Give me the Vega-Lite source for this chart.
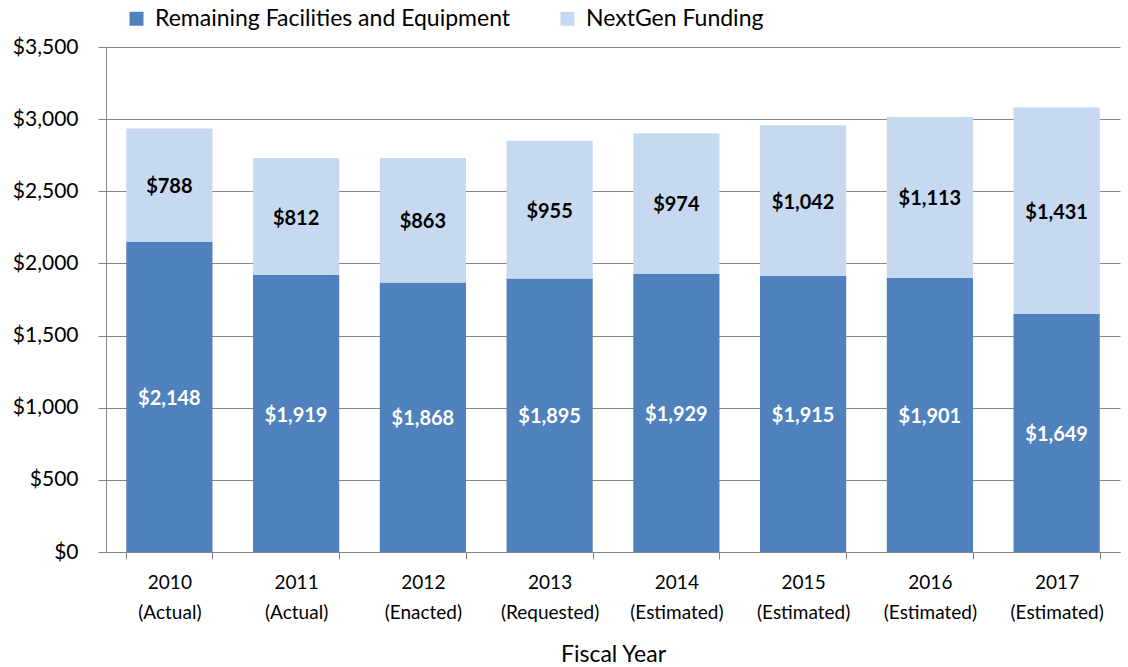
{
  "$schema": "https://vega.github.io/schema/vega-lite/v6.json",
  "width": 1014,
  "height": 505,
  "autosize": "none",
  "padding": {"left": 106, "top": 47, "right": 8, "bottom": 115},
  "background": "white",
  "config": {
    "font": "Lato",
    "view": {"stroke": null},
    "axis": {"labelFont": "Lato", "titleFont": "Lato", "labelColor": "#000000", "titleColor": "#000000"}
  },
  "data": {
    "values": [
      {"year": "2010 (Actual)", "series": "Remaining Facilities and Equipment", "order": 1, "value": 2148},
      {"year": "2010 (Actual)", "series": "NextGen Funding", "order": 2, "value": 788},
      {"year": "2011 (Actual)", "series": "Remaining Facilities and Equipment", "order": 1, "value": 1919},
      {"year": "2011 (Actual)", "series": "NextGen Funding", "order": 2, "value": 812},
      {"year": "2012 (Enacted)", "series": "Remaining Facilities and Equipment", "order": 1, "value": 1868},
      {"year": "2012 (Enacted)", "series": "NextGen Funding", "order": 2, "value": 863},
      {"year": "2013 (Requested)", "series": "Remaining Facilities and Equipment", "order": 1, "value": 1895},
      {"year": "2013 (Requested)", "series": "NextGen Funding", "order": 2, "value": 955},
      {"year": "2014 (Estimated)", "series": "Remaining Facilities and Equipment", "order": 1, "value": 1929},
      {"year": "2014 (Estimated)", "series": "NextGen Funding", "order": 2, "value": 974},
      {"year": "2015 (Estimated)", "series": "Remaining Facilities and Equipment", "order": 1, "value": 1915},
      {"year": "2015 (Estimated)", "series": "NextGen Funding", "order": 2, "value": 1042},
      {"year": "2016 (Estimated)", "series": "Remaining Facilities and Equipment", "order": 1, "value": 1901},
      {"year": "2016 (Estimated)", "series": "NextGen Funding", "order": 2, "value": 1113},
      {"year": "2017 (Estimated)", "series": "Remaining Facilities and Equipment", "order": 1, "value": 1649},
      {"year": "2017 (Estimated)", "series": "NextGen Funding", "order": 2, "value": 1431}
    ]
  },
  "transform": [
    {"stack": "value", "groupby": ["year"], "sort": [{"field": "order", "order": "ascending"}], "as": ["v0", "v1"]},
    {"calculate": "(datum.v0 + datum.v1) / 2", "as": "mid"}
  ],
  "encoding": {
    "x": {
      "field": "year",
      "type": "nominal",
      "sort": null,
      "scale": {"paddingInner": 0.32, "paddingOuter": 0.16},
      "axis": {
        "title": "Fiscal Year",
        "titleFontSize": 23,
        "titleFontWeight": "normal",
        "titlePadding": 21,
        "labelAngle": 0,
        "labelFontSize": 19,
        "labelLineHeight": 30,
        "labelPadding": 14,
        "labelExpr": "split(datum.label, ' ')",
        "tickBand": "extent",
        "tickSize": 7,
        "tickColor": "#868686",
        "domainColor": "#868686",
        "grid": false
      }
    }
  },
  "layer": [
    {
      "mark": {"type": "bar"},
      "encoding": {
        "y": {
          "field": "v0",
          "type": "quantitative",
          "scale": {"domain": [0, 3500], "nice": false},
          "axis": {
            "title": null,
            "values": [0, 500, 1000, 1500, 2000, 2500, 3000, 3500],
            "format": "$,d",
            "labelFontSize": 21,
            "labelPadding": 20,
            "tickSize": 8,
            "tickColor": "#868686",
            "domainColor": "#868686",
            "gridColor": "#868686",
            "grid": true
          }
        },
        "y2": {"field": "v1"},
        "color": {
          "field": "series",
          "type": "nominal",
          "scale": {
            "domain": ["Remaining Facilities and Equipment", "NextGen Funding"],
            "range": ["#4F81BD", "#C6D9F1"]
          },
          "legend": {
            "title": null,
            "orient": "none",
            "direction": "horizontal",
            "legendX": 19,
            "legendY": -40,
            "symbolType": "square",
            "symbolSize": 196,
            "symbolStrokeWidth": 0,
            "labelFontSize": 23,
            "labelFont": "Lato",
            "labelColor": "#000000",
            "labelLimit": 0,
            "columnPadding": 45,
            "labelOffset": 7
          }
        }
      }
    },
    {
      "mark": {"type": "text", "fontSize": 20, "fontWeight": "bold", "baseline": "middle", "align": "center", "dy": 2},
      "encoding": {
        "y": {"field": "mid", "type": "quantitative"},
        "text": {"field": "value", "type": "quantitative", "format": "$,d"},
        "color": {
          "condition": {"test": "datum.order == 1", "value": "#FFFFFF"},
          "value": "#000000"
        }
      }
    }
  ]
}
